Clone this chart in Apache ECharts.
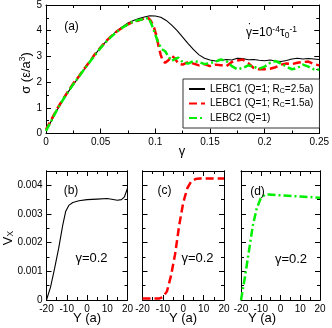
<!DOCTYPE html>
<html>
<head>
<meta charset="utf-8">
<script src="https://cdn.jsdelivr.net/npm/echarts@6.0.0/dist/echarts.min.js"></script>
<style>
  html, body { margin: 0; padding: 0; background: #fff; }
  #main { width: 332px; height: 328px; }
</style>
</head>
<body>
<div id="main"></div>
<script>
// panel (a): stress vs strain
var gammaBlack = [0, 0.005, 0.01, 0.015, 0.02, 0.025, 0.03, 0.035, 0.04, 0.045, 0.05, 0.055, 0.06, 0.065, 0.07, 0.075, 0.08, 0.085, 0.09, 0.095, 0.1, 0.105, 0.11, 0.115, 0.12, 0.125, 0.13, 0.135, 0.14, 0.145, 0.15, 0.155, 0.16, 0.165, 0.17, 0.175, 0.18, 0.185, 0.19, 0.195, 0.2, 0.205, 0.21, 0.215, 0.22, 0.225, 0.23, 0.235, 0.24, 0.245, 0.25];
var sigmaBlack = [0.12, 0.5, 0.9, 1.25, 1.6, 1.9, 2.2, 2.5, 2.8, 3.08, 3.35, 3.58, 3.8, 4.0, 4.16, 4.3, 4.4, 4.47, 4.53, 4.58, 4.57, 4.52, 4.4, 4.22, 4.0, 3.75, 3.5, 3.26, 3.06, 2.93, 2.86, 2.82, 2.84, 2.88, 2.86, 2.93, 2.92, 2.87, 2.88, 2.85, 2.83, 2.86, 2.82, 2.8, 2.84, 2.9, 2.93, 2.9, 2.92, 2.9, 2.88];

var gammaRed = [0, 0.005, 0.01, 0.015, 0.02, 0.025, 0.03, 0.035, 0.04, 0.045, 0.05, 0.055, 0.06, 0.065, 0.07, 0.075, 0.08, 0.085, 0.09, 0.093, 0.096, 0.099, 0.101, 0.103, 0.105, 0.107, 0.109, 0.112, 0.115, 0.118, 0.121, 0.125, 0.13, 0.135, 0.14, 0.145, 0.15, 0.155, 0.16, 0.165, 0.17, 0.175, 0.18, 0.185, 0.19, 0.195, 0.2, 0.205, 0.21, 0.215, 0.22, 0.225, 0.23, 0.235, 0.24, 0.245, 0.25];
var sigmaRed = [0.15, 0.55, 0.95, 1.3, 1.63, 1.95, 2.22, 2.52, 2.8, 3.1, 3.35, 3.6, 3.8, 3.98, 4.12, 4.25, 4.35, 4.4, 4.48, 4.52, 4.38, 4.1, 3.8, 3.4, 3.05, 2.82, 2.75, 2.85, 3.02, 2.92, 2.72, 2.68, 2.78, 2.72, 2.65, 2.7, 2.62, 2.68, 2.66, 2.62, 2.78, 2.84, 2.88, 2.74, 2.55, 2.5, 2.5, 2.52, 2.58, 2.68, 2.72, 2.7, 2.75, 2.78, 2.8, 2.7, 2.65];

var gammaGreen = [0, 0.005, 0.01, 0.015, 0.02, 0.025, 0.03, 0.035, 0.04, 0.045, 0.05, 0.055, 0.06, 0.065, 0.07, 0.075, 0.08, 0.085, 0.09, 0.094, 0.097, 0.1, 0.103, 0.106, 0.109, 0.112, 0.115, 0.118, 0.121, 0.125, 0.13, 0.135, 0.14, 0.145, 0.15, 0.155, 0.16, 0.165, 0.17, 0.175, 0.18, 0.185, 0.19, 0.195, 0.2, 0.205, 0.21, 0.215, 0.22, 0.225, 0.23, 0.235, 0.24, 0.245, 0.25];
var sigmaGreen = [0.1, 0.5, 0.92, 1.28, 1.6, 1.92, 2.2, 2.5, 2.78, 3.06, 3.33, 3.57, 3.78, 3.96, 4.12, 4.25, 4.36, 4.42, 4.45, 4.5, 4.2, 3.85, 3.5, 3.28, 3.2, 3.0, 2.82, 2.9, 2.95, 2.78, 2.72, 2.82, 2.78, 2.7, 2.74, 2.8, 2.88, 2.82, 2.62, 2.5, 2.55, 2.65, 2.6, 2.52, 2.6, 2.75, 2.82, 2.72, 2.6, 2.5, 2.55, 2.68, 2.6, 2.5, 2.48];

// panels (b)-(d): velocity profile at gamma = 0.2
var yB = [-20, -18, -16, -14, -12, -10.5, -9, -7, -4, 0, 5, 10, 15, 17, 18.5, 20];
var vB = [0, 0.00045, 0.0011, 0.0018, 0.0026, 0.0031, 0.0033, 0.0034, 0.00346, 0.0035, 0.00352, 0.00354, 0.00348, 0.0035, 0.0036, 0.0039];
var yC = [-20, -12, -10, -8, -6, -4, -2, 0, 2, 4, 6, 8, 20];
var vC = [0.00005, 0.00005, 0.0001, 0.0003, 0.00085, 0.0016, 0.0026, 0.0034, 0.0039, 0.00415, 0.00422, 0.00424, 0.00424];
var yD = [-20, -18, -16, -14, -12, -10, -8, -6, 0, 10, 20];
var vD = [0, 0.0008, 0.0017, 0.0026, 0.0032, 0.00355, 0.00367, 0.00368, 0.00365, 0.00361, 0.00357];

var names = ['LEBC1 (Q=1; Rc=2.5a)', 'LEBC1 (Q=1; Rc=1.5a)', 'LEBC2 (Q=1)'];
var legendLabels = ['LEBC1 (Q=1; R{sub|C}=2.5a)', 'LEBC1 (Q=1; R{sub|C}=1.5a)', 'LEBC2 (Q=1)'];

var FONT = '"Liberation Sans", Arial, sans-serif';

function pairs(xs, ys) {
  return xs.map(function (x, i) { return [x, ys[i]]; });
}

var grids = [
  {left: 46, top: 5, width: 274, height: 128.5},
  {left: 46.5, top: 171, width: 81, height: 129},
  {left: 142.5, top: 171, width: 81.5, height: 129},
  {left: 241, top: 171, width: 79, height: 129}
];

var xAxes = [];
var yAxes = [];

function axisBase(grid, pos, min, max, interval, showLabel, minor) {
  return {
    type: 'value', gridIndex: grid, position: pos,
    min: min, max: max, interval: interval,
    axisLine: {show: true, onZero: false, lineStyle: {color: '#000', width: 1}},
    axisTick: {show: true, inside: true, length: 5, lineStyle: {color: '#000'}},
    minorTick: {show: !!minor, splitNumber: 2, length: 3, lineStyle: {color: '#000'}},
    splitLine: {show: false},
    axisLabel: {show: showLabel, color: '#000', fontFamily: FONT, fontSize: 10, margin: 4, showMaxLabel: true}
  };
}

// (a)
xAxes.push(axisBase(0, 'bottom', 0, 0.25, 0.05, true, true));
xAxes.push(axisBase(0, 'top', 0, 0.25, 0.05, false, true));
yAxes.push(axisBase(0, 'left', 0, 5, 1, true, true));
yAxes.push(axisBase(0, 'right', 0, 5, 1, false, true));

// (b)-(d)
var vIdx = [];
for (var g = 1; g <= 3; g++) {
  vIdx.push({x: xAxes.length, y: yAxes.length});
  xAxes.push(axisBase(g, 'bottom', -20, 20, 10, true, true));
  xAxes.push(axisBase(g, 'top', -20, 20, 10, false, true));
  var major = axisBase(g, 'left', 0, 0.0045, 0.001, g === 1, false);
  major.axisLabel.showMaxLabel = false;
  yAxes.push(major);
  var minorL = axisBase(g, 'left', 0, 0.0045, 0.0005, false, false);
  minorL.axisTick.length = 3;
  yAxes.push(minorL);
  var majorR = axisBase(g, 'right', 0, 0.0045, 0.001, false, false);
  yAxes.push(majorR);
  var minorR = axisBase(g, 'right', 0, 0.0045, 0.0005, false, false);
  minorR.axisTick.length = 3;
  yAxes.push(minorR);
}

var RED = '#ff0000';
var GREEN = '#00ee00';
var redDash = [8, 4];
var greenDash = [8, 3, 2, 3];

var series = [
  {name: names[0], type: 'line', xAxisIndex: 0, yAxisIndex: 0, symbol: 'none', z: 3,
   lineStyle: {color: '#000', width: 1.1}, itemStyle: {color: '#000'}, data: pairs(gammaBlack, sigmaBlack)},
  {name: names[1], type: 'line', xAxisIndex: 0, yAxisIndex: 0, symbol: 'none', z: 4,
   lineStyle: {color: RED, width: 2.5, type: redDash}, itemStyle: {color: RED}, data: pairs(gammaRed, sigmaRed)},
  {name: names[2], type: 'line', xAxisIndex: 0, yAxisIndex: 0, symbol: 'none', z: 5,
   lineStyle: {color: GREEN, width: 2.5, type: greenDash}, itemStyle: {color: GREEN}, data: pairs(gammaGreen, sigmaGreen)},
  {name: 'b', type: 'line', xAxisIndex: vIdx[0].x, yAxisIndex: vIdx[0].y, symbol: 'none',
   lineStyle: {color: '#000', width: 1.1}, data: pairs(yB, vB)},
  {name: 'c', type: 'line', xAxisIndex: vIdx[1].x, yAxisIndex: vIdx[1].y, symbol: 'none',
   lineStyle: {color: RED, width: 2.5, type: redDash}, data: pairs(yC, vC)},
  {name: 'd', type: 'line', xAxisIndex: vIdx[2].x, yAxisIndex: vIdx[2].y, symbol: 'none',
   lineStyle: {color: GREEN, width: 2.5, type: greenDash}, data: pairs(yD, vD)}
];

function txt(x, y, text, size, extra) {
  var o = {type: 'text', x: x, y: y, z: 20,
    style: {text: text, fill: '#000', fontFamily: FONT, fontSize: size, align: 'center', verticalAlign: 'middle'}};
  if (extra) {
    for (var k in extra) {
      if (k === 'rich' || k === 'align') o.style[k] = extra[k];
      else o[k] = extra[k];
    }
  }
  return o;
}

var supSub = {
  sup: {fontFamily: FONT, fontSize: 8.5, verticalAlign: 'top', padding: [0, 0, 6, 0]},
  sub: {fontFamily: FONT, fontSize: 8.5, verticalAlign: 'bottom', padding: [5, 0, 0, 0]}
};

var graphics = [
  txt(71.5, 26.7, '(a)', 12),
  txt(246, 33, 'γ=10{sup|-4}τ{sub|0}{sup|-1}', 12, {rich: supSub, align: 'left'}),
  txt(250, 29, '˙', 12),
  txt(26, 73, 'σ (ε/a{sup|3})', 13, {rotation: Math.PI / 2, rich: supSub}),
  txt(182, 151, 'γ', 13),
  txt(71, 191, '(b)', 12),
  txt(164.5, 191, '(c)', 12),
  txt(257.5, 192, '(d)', 12),
  txt(91.5, 258, 'γ=0.2', 13),
  txt(197.5, 258, 'γ=0.2', 13),
  txt(291, 259, 'γ=0.2', 13),
  txt(8, 238, 'V{sub|X}', 13, {rotation: Math.PI / 2, rich: supSub}),
  txt(87, 318, 'Y (a)', 13),
  txt(183, 318, 'Y (a)', 13),
  txt(262, 318, 'Y (a)', 13)
];

var chart = echarts.init(document.getElementById('main'), null, {renderer: 'canvas'});
chart.setOption({
  animation: false,
  backgroundColor: '#fff',
  grid: grids,
  xAxis: xAxes,
  yAxis: yAxes,
  legend: {
    data: names,
    orient: 'vertical',
    left: 183, top: 79,
    padding: [5, 6, 5, 5],
    itemGap: 4,
    itemWidth: 16, itemHeight: 10,
    borderColor: '#333', borderWidth: 1,
    backgroundColor: '#fff',
    itemStyle: {opacity: 0},
    textStyle: {fontFamily: FONT, fontSize: 10, color: '#000',
      rich: {sub: {fontFamily: FONT, fontSize: 7, verticalAlign: 'bottom', padding: [4, 0, 0, 0]}}},
    formatter: function (n) { return legendLabels[names.indexOf(n)]; }
  },
  graphic: graphics,
  series: series
});
</script>
</body>
</html>
